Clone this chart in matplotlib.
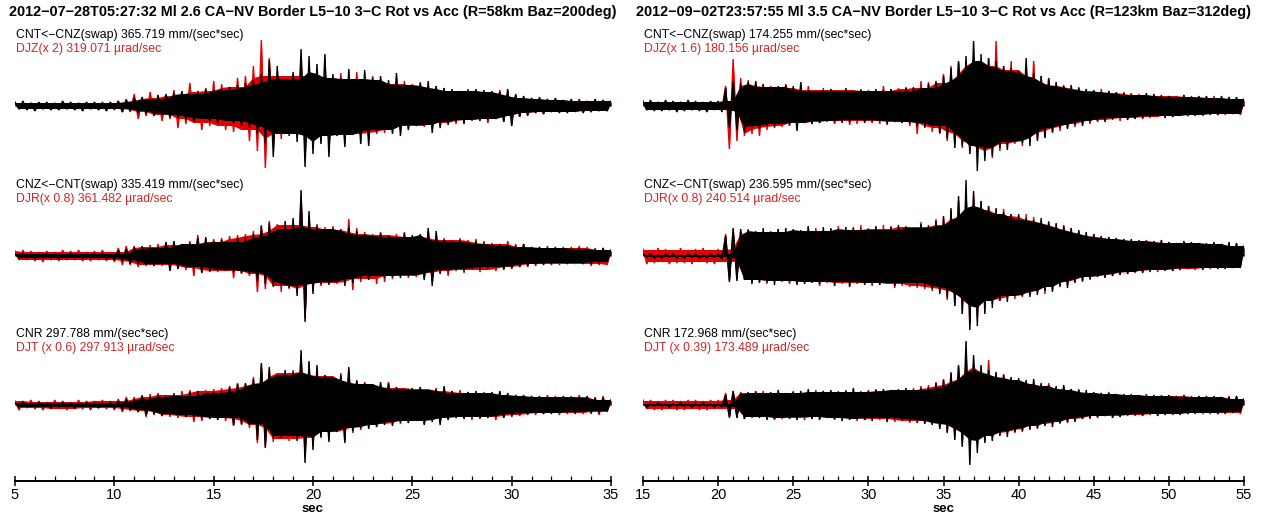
import numpy as np
import matplotlib
matplotlib.use('Agg')
import matplotlib.pyplot as plt
from matplotlib.ticker import MultipleLocator
from matplotlib.transforms import blended_transform_factory
from numpy.lib.stride_tricks import sliding_window_view

plt.rcParams['font.family'] = ['Liberation Sans', 'DejaVu Sans']

# ---------------- DATA ----------------
# Event 1 (left): samples every 0.2 s from 5 s to 35 s, relative amplitude (up = +)
ev1_title = "2012\u221207\u221228T05:27:32 Ml 2.6 CA\u2212NV Border L5\u221210 3\u2212C Rot vs Acc (R=58km Baz=200deg)"
ev1_t0, ev1_dt = 5.0, 0.2
ev1_xticks = [5, 10, 15, 20, 25, 30, 35]
ev1_labels_acc = ["CNT<\u2212CNZ(swap) 365.719 mm/(sec*sec)",
                  "CNZ<\u2212CNT(swap) 335.419 mm/(sec*sec)",
                  "CNR 297.788 mm/(sec*sec)"]
ev1_labels_rot = ["DJZ(x 2) 319.071 \u00b5rad/sec",
                  "DJR(x 0.8) 361.482 \u00b5rad/sec",
                  "DJT (x 0.6) 297.913 \u00b5rad/sec"]

ev1_cnt = [4, -3, 5, -4, 3, -5, 4, -3, 4, -4,
           3, -4, 5, -3, 4, -4, 3, -5, 4, -3,
           4, -4, 3, -5, 4, -3, 5, -6, 6, -5,
           8, -7, 9, -8, 7, -10, 11, -9, 12, -11,
           13, -12, 15, -14, 12, -16, 15, -13, 17, -15,
           16, -18, 17, -15, 19, -17, 21, -20, 23, -22,
           26, -28, 32, -38, 46, -51, 40, -28, 27, -30,
           34, -36, 57, -61, 50, -48, 42, -38, 52, -51,
           32, -30, 28, -41, 37, -29, 27, -38, 36, -40,
           28, -26, 30, -24, 26, -28, 33, -30, 22, -24,
           21, -20, 23, -19, 25, -27, 20, -22, 18, -19,
           17, -16, 15, -18, 16, -14, 17, -15, 16, -14,
           15, -13, 14, -16, 17, -20, 12, -11, 10, -9,
           8, -7, 9, -8, 7, -6, 8, -7, 6, -7,
           7, -6, 6, -7, 5, -6, 7, -5, 6, -5,
           5]
ev1_djz = [3, -3, 2, -3, 3, -2, 3, -3, 2, -3,
           3, -2, 3, -3, 2, -3, 3, -2, 3, -3,
           3, -2, 4, -3, 3, -4, 5, -6, 7, -6,
           12, -13, 8, -10, 14, -9, 11, -15, 10, -13,
           16, -22, 14, -18, 23, -17, 15, -24, 18, -20,
           25, -20, 22, -24, 19, -26, 28, -24, 30, -35,
           40, -45, 66, -62, 48, -35, 30, -33, 30, -28,
           32, -30, 45, -44, 40, -38, 35, -36, 30, -34,
           28, -30, 33, -35, 27, -28, 34, -30, 26, -32,
           30, -28, 25, -27, 24, -26, 22, -24, 25, -23,
           22, -20, 24, -21, 19, -22, 20, -21, 18, -17,
           16, -18, 15, -17, 17, -15, 16, -14, 15, -17,
           14, -13, 16, -15, 14, -12, 11, -10, 9, -10,
           8, -7, 6, -8, 7, -6, 7, -6, 5, -6,
           6, -5, 7, -6, 5, -6, 6, -5, 6, -5,
           4]
ev1_cnz = [2, -2, 3, -2, 2, -3, 2, -2, 3, -2,
           2, -3, 2, -2, 3, -2, 2, -3, 2, -2,
           3, -2, 3, -3, 2, -4, 6, -5, 7, -8,
           9, -8, 10, -9, 8, -10, 9, -8, 14, -15,
           15, -13, 12, -11, 13, -12, 18, -17, 19, -16,
           15, -14, 16, -15, 14, -16, 18, -17, 19, -18,
           22, -25, 30, -28, 33, -31, 27, -30, 35, -32,
           38, -40, 66, -66, 45, -38, 30, -28, 27, -29,
           28, -26, 27, -30, 29, -27, 25, -23, 22, -24,
           21, -20, 23, -22, 20, -21, 19, -22, 23, -20,
           21, -19, 22, -24, 28, -30, 25, -18, 16, -15,
           15, -14, 16, -15, 14, -13, 15, -14, 13, -12,
           12, -11, 12, -13, 11, -12, 10, -11, 12, -10,
           9, -8, 9, -9, 8, -8, 9, -7, 8, -8,
           8, -7, 8, -8, 7, -8, 7, -7, 8, -6,
           6]
ev1_djr = [5, -4, 6, -4, 5, -5, 4, -6, 5, -4,
           4, -5, 6, -4, 5, -4, 6, -5, 4, -5,
           5, -4, 6, -5, 4, -6, 8, -9, 10, -9,
           10, -11, 9, -10, 11, -9, 12, -10, 13, -12,
           13, -12, 11, -14, 15, -20, 21, -16, 14, -15,
           17, -16, 18, -15, 20, -22, 21, -18, 22, -20,
           25, -36, 31, -33, 35, -30, 32, -36, 31, -33,
           35, -37, 60, -62, 40, -35, 32, -30, 29, -27,
           30, -28, 26, -27, 37, -34, 28, -26, 24, -23,
           22, -28, 24, -26, 21, -23, 22, -20, 24, -22,
           20, -21, 19, -23, 25, -24, 20, -17, 18, -20,
           16, -15, 18, -17, 16, -14, 17, -16, 15, -14,
           13, -15, 12, -14, 15, -13, 12, -11, 12, -11,
           9, -10, 9, -8, 10, -9, 8, -9, 9, -8,
           9, -8, 10, -8, 9, -10, 8, -9, 8, -9,
           6]
ev1_cnr = [2, -2, 3, -2, 2, -2, 3, -2, 2, -3,
           2, -2, 3, -2, 2, -3, 2, -2, 3, -2,
           2, -3, 2, -2, 3, -3, 4, -5, 6, -5,
           6, -7, 9, -10, 8, -9, 10, -11, 9, -10,
           11, -10, 9, -12, 13, -12, 14, -13, 12, -14,
           13, -15, 14, -13, 18, -20, 21, -19, 22, -20,
           26, -35, 42, -43, 38, -34, 30, -33, 35, -31,
           33, -36, 55, -58, 44, -45, 40, -32, 30, -37,
           28, -27, 30, -38, 38, -26, 25, -23, 22, -24,
           21, -22, 23, -20, 22, -21, 18, -17, 16, -18,
           17, -16, 18, -20, 15, -17, 16, -20, 19, -15,
           14, -13, 12, -14, 13, -12, 14, -13, 12, -13,
           13, -12, 14, -13, 12, -11, 10, -9, 10, -9,
           9, -8, 9, -9, 8, -9, 8, -8, 9, -8,
           8, -9, 8, -7, 9, -8, 7, -8, 7, -6,
           5]
ev1_djt = [4, -5, 4, -3, 5, -4, 4, -5, 3, -4,
           5, -4, 4, -5, 3, -4, 5, -4, 4, -5,
           4, -3, 5, -4, 4, -5, 6, -7, 8, -6,
           8, -7, 10, -12, 11, -10, 12, -11, 10, -12,
           12, -13, 14, -12, 15, -17, 14, -16, 15, -13,
           16, -14, 17, -16, 19, -21, 22, -20, 21, -23,
           28, -38, 40, -42, 36, -37, 32, -34, 33, -36,
           35, -34, 50, -52, 42, -41, 35, -33, 30, -34,
           29, -27, 32, -36, 34, -28, 24, -25, 23, -22,
           20, -22, 21, -19, 23, -20, 18, -19, 17, -18,
           17, -15, 18, -19, 16, -15, 17, -18, 16, -15,
           14, -13, 15, -12, 13, -15, 12, -14, 13, -12,
           12, -15, 13, -12, 11, -12, 10, -11, 9, -10,
           9, -10, 8, -9, 10, -8, 9, -10, 8, -9,
           9, -8, 10, -9, 8, -9, 8, -10, 9, -7,
           5]

# Event 2 (right): samples every 0.25 s from 15 s to 55 s
ev2_title = "2012\u221209\u221202T23:57:55 Ml 3.5 CA\u2212NV Border L5\u221210 3\u2212C Rot vs Acc (R=123km Baz=312deg)"
ev2_t0, ev2_dt = 15.0, 0.25
ev2_xticks = [15, 20, 25, 30, 35, 40, 45, 50, 55]
ev2_labels_acc = ["CNT<\u2212CNZ(swap) 174.255 mm/(sec*sec)",
                  "CNZ<\u2212CNT(swap) 236.595 mm/(sec*sec)",
                  "CNR 172.968 mm/(sec*sec)"]
ev2_labels_rot = ["DJZ(x 1.6) 180.156 \u00b5rad/sec",
                  "DJR(x 0.8) 240.514 \u00b5rad/sec",
                  "DJT (x 0.39) 173.489 \u00b5rad/sec"]

ev2_cnt = [5, -4, 6, -5, 4, -5, 6, -4, 5, -6,
           4, -5, 6, -4, 5, -5, 4, -6, 5, -4,
           5, -6, 18, -22, 25, -24, 22, -26, 24, -21,
           25, -23, 22, -20, 19, -21, 20, -18, 21, -19,
           20, -25, 24, -17, 16, -18, 15, -17, 16, -15,
           17, -16, 15, -17, 18, -16, 15, -14, 16, -17,
           15, -16, 17, -15, 16, -18, 17, -16, 15, -17,
           18, -17, 19, -20, 18, -21, 22, -20, 25, -27,
           30, -33, 38, -42, 45, -40, 50, -48, 65, -65,
           52, -55, 48, -50, 45, -42, 40, -44, 38, -36,
           35, -37, 48, -40, 33, -35, 30, -32, 28, -26,
           24, -22, 20, -23, 21, -19, 18, -20, 17, -16,
           16, -15, 14, -16, 15, -13, 14, -12, 13, -14,
           12, -13, 11, -12, 13, -11, 12, -10, 11, -12,
           10, -11, 9, -10, 11, -10, 9, -10, 10, -9,
           10, -9, 8, -9, 10, -8, 9, -8, 9, -8,
           7]
ev2_djz = [3, -4, 3, -3, 4, -3, 3, -4, 3, -3,
           4, -3, 3, -4, 3, -4, 3, -3, 4, -3,
           4, -3, 20, -43, 47, -35, 28, -30, 26, -28,
           24, -30, 22, -24, 20, -22, 19, -21, 22, -20,
           18, -21, 19, -17, 20, -18, 16, -17, 18, -16,
           17, -18, 16, -15, 17, -19, 16, -18, 17, -15,
           16, -17, 15, -18, 20, -19, 17, -16, 18, -17,
           19, -20, 18, -28, 25, -22, 24, -26, 23, -28,
           32, -35, 40, -38, 44, -42, 45, -47, 50, -48,
           45, -50, 48, -52, 65, -45, 40, -42, 45, -38,
           36, -40, 38, -36, 45, -33, 30, -31, 28, -27,
           23, -25, 21, -22, 20, -21, 19, -18, 17, -18,
           15, -16, 17, -14, 15, -14, 13, -15, 14, -13,
           13, -12, 12, -13, 11, -12, 12, -11, 10, -11,
           10, -11, 10, -9, 11, -10, 10, -9, 9, -10,
           9, -8, 10, -9, 8, -9, 9, -8, 8, -9,
           6]
ev2_cnz = [2, -1, 2, -2, 1, -2, 2, -1, 2, -2,
           1, -2, 2, -1, 2, -2, 1, -2, 2, -1,
           2, -3, 20, -26, 28, -25, 27, -24, 26, -28,
           25, -27, 28, -26, 24, -29, 27, -25, 28, -26,
           27, -29, 26, -28, 30, -27, 25, -28, 29, -26,
           28, -30, 27, -26, 29, -31, 28, -27, 26, -29,
           27, -28, 30, -29, 26, -27, 29, -30, 31, -28,
           29, -27, 28, -30, 32, -31, 30, -33, 35, -38,
           40, -42, 48, -50, 60, -58, 76, -74, 65, -70,
           55, -58, 50, -52, 48, -45, 44, -46, 42, -40,
           42, -40, 38, -41, 36, -39, 38, -35, 34, -36,
           33, -31, 30, -32, 28, -27, 26, -25, 24, -23,
           22, -21, 20, -22, 19, -20, 18, -19, 17, -18,
           17, -16, 16, -17, 15, -16, 15, -14, 16, -15,
           14, -15, 13, -14, 15, -13, 14, -12, 13, -14,
           13, -12, 14, -13, 12, -13, 14, -12, 13, -12,
           10]
ev2_djr = [7, -8, 6, -7, 8, -6, 7, -8, 6, -7,
           8, -7, 6, -8, 7, -6, 8, -7, 6, -8,
           7, -6, 22, -24, 26, -22, 25, -23, 27, -25,
           24, -26, 23, -28, 25, -24, 27, -26, 24, -28,
           26, -28, 25, -27, 29, -26, 28, -30, 25, -27,
           27, -29, 30, -28, 26, -30, 29, -28, 31, -27,
           28, -30, 27, -29, 31, -28, 30, -32, 29, -30,
           30, -31, 29, -32, 34, -33, 31, -35, 37, -36,
           38, -44, 46, -50, 55, -58, 65, -68, 60, -62,
           55, -52, 50, -48, 46, -45, 47, -44, 42, -43,
           40, -41, 42, -38, 39, -37, 36, -38, 35, -34,
           32, -30, 31, -29, 28, -26, 25, -26, 23, -24,
           22, -21, 20, -21, 19, -20, 18, -19, 17, -18,
           16, -17, 15, -16, 16, -15, 14, -16, 15, -14,
           14, -15, 13, -14, 14, -13, 13, -14, 12, -13,
           12, -13, 13, -12, 12, -13, 11, -12, 12, -11,
           9]
ev2_cnr = [1, -2, 1, -1, 2, -1, 1, -2, 1, -1,
           2, -1, 1, -2, 1, -1, 2, -1, 1, -2,
           1, -2, 10, -12, 14, -13, 12, -14, 13, -12,
           14, -13, 12, -15, 13, -14, 15, -13, 12, -14,
           13, -15, 14, -12, 16, -14, 13, -15, 14, -13,
           15, -14, 13, -16, 14, -15, 17, -14, 13, -15,
           14, -16, 15, -13, 16, -17, 15, -14, 16, -15,
           17, -16, 15, -18, 17, -19, 18, -20, 22, -24,
           25, -28, 32, -35, 40, -42, 64, -60, 50, -48,
           40, -38, 35, -36, 33, -31, 30, -32, 28, -27,
           27, -26, 25, -24, 26, -23, 22, -21, 20, -22,
           19, -18, 20, -17, 16, -17, 15, -14, 15, -13,
           13, -12, 12, -11, 12, -13, 11, -12, 11, -10,
           11, -10, 10, -11, 10, -9, 10, -11, 9, -10,
           10, -9, 9, -10, 10, -9, 8, -9, 9, -8,
           9, -8, 9, -9, 8, -9, 8, -8, 9, -7,
           6]
ev2_djt = [5, -4, 5, -5, 4, -5, 5, -4, 5, -5,
           4, -5, 5, -4, 5, -5, 4, -5, 5, -4,
           5, -4, 12, -13, 14, -12, 13, -14, 12, -13,
           13, -12, 14, -13, 12, -15, 13, -14, 12, -13,
           14, -13, 12, -15, 13, -14, 15, -13, 14, -12,
           13, -15, 14, -13, 15, -14, 13, -16, 14, -15,
           15, -14, 16, -15, 14, -16, 15, -17, 14, -16,
           16, -18, 17, -16, 19, -18, 20, -19, 23, -22,
           26, -27, 33, -31, 38, -40, 48, -45, 42, -40,
           38, -36, 45, -35, 32, -30, 31, -29, 27, -28,
           25, -27, 24, -25, 22, -24, 21, -20, 22, -19,
           18, -19, 17, -18, 16, -15, 16, -14, 13, -14,
           12, -13, 12, -11, 13, -12, 11, -12, 10, -11,
           10, -11, 9, -10, 11, -10, 9, -10, 10, -9,
           9, -10, 9, -8, 10, -9, 9, -8, 9, -9,
           8, -9, 8, -9, 8, -8, 9, -8, 8, -9,
           6]

# ---------------- LAYOUT ----------------
W, H = 1262, 516
fig = plt.figure(figsize=(W / 100, H / 100), dpi=100)

AX_TOP, AX_BOT = 25, 481          # pixel rows
BASE_ROWS = [106, 256, 405]       # baseline rows of the 3 trace pairs
BLACK = '#000000'
RED = '#e40000'
RED_TXT = '#d02525'
CORE_WIN = 5                      # peaks compared for the solid core band


def draw_trace(ax, t, base, vals, color, z):
    """Dense-seismogram look: a solid core band (lowest of neighbouring peaks),
    the filled wiggle on top so the larger peaks stick out as spikes."""
    v = np.asarray(vals, dtype=float)
    up = v >= 0
    tp, vp = t[up], v[up]
    tn, vn = t[~up], v[~up]
    h = CORE_WIN // 2
    cp = sliding_window_view(np.pad(vp, h, mode='edge'), CORE_WIN).min(axis=1)
    cn = sliding_window_view(np.pad(vn, h, mode='edge'), CORE_WIN).max(axis=1)
    ax.fill(np.r_[tp, tn[::-1]], base + np.r_[cp, cn[::-1]], color=color, lw=0,
            zorder=z)
    ax.fill_between(t, base, base + v, color=color, lw=0, interpolate=True, zorder=z)
    ax.plot(t, base + v, color=color, lw=1.0, solid_joinstyle='miter', zorder=z + 0.1)


def make_panel(x0px, x1px, t0, dt, traces, labels_acc, labels_rot, title, xticks):
    ax = fig.add_axes([x0px / W, 1 - AX_BOT / H, (x1px - x0px) / W, (AX_BOT - AX_TOP) / H])
    span = AX_BOT - AX_TOP
    ax.set_ylim(0, span)
    n = len(traces[0][0])
    t = t0 + dt * np.arange(n)
    ax.set_xlim(t[0], t[-1])
    trans = blended_transform_factory(ax.transAxes, ax.transData)
    for i, (acc, rot) in enumerate(traces):
        base = AX_BOT - BASE_ROWS[i]
        draw_trace(ax, t, base, rot, RED, 2.0)
        draw_trace(ax, t, base, acc, BLACK, 2.5)
        ax.text(1.5 / (x1px - x0px), base + 71, labels_acc[i], transform=trans,
                fontsize=8.8, color='#000000', va='center', ha='left', zorder=4)
        ax.text(1.5 / (x1px - x0px), base + 57, labels_rot[i], transform=trans,
                fontsize=8.8, color=RED_TXT, va='center', ha='left', zorder=4)
    for s in ('top', 'left', 'right'):
        ax.spines[s].set_visible(False)
    ax.spines['bottom'].set_linewidth(1.4)
    ax.set_yticks([])
    ax.set_xticks(xticks)
    ax.xaxis.set_minor_locator(MultipleLocator(1))
    ax.tick_params(axis='x', which='major', direction='inout', length=7, width=1.1,
                   labelsize=10.5, pad=1.5)
    ax.tick_params(axis='x', which='minor', direction='in', length=3.5, width=0.9)
    ax.patch.set_alpha(0)
    cx = (x0px + x1px) / 2 / W
    fig.text(cx, 1 - 12 / H, title, ha='center', va='center', fontsize=10.35,
             fontweight='bold')
    fig.text(cx, 1 - 509.5 / H, 'sec', ha='center', va='center', fontsize=9.5,
             fontweight='bold')
    return ax


make_panel(15, 611, ev1_t0, ev1_dt,
           [(ev1_cnt, ev1_djz), (ev1_cnz, ev1_djr), (ev1_cnr, ev1_djt)],
           ev1_labels_acc, ev1_labels_rot, ev1_title, ev1_xticks)
make_panel(643, 1244, ev2_t0, ev2_dt,
           [(ev2_cnt, ev2_djz), (ev2_cnz, ev2_djr), (ev2_cnr, ev2_djt)],
           ev2_labels_acc, ev2_labels_rot, ev2_title, ev2_xticks)

fig.savefig('out.png', dpi=100)
